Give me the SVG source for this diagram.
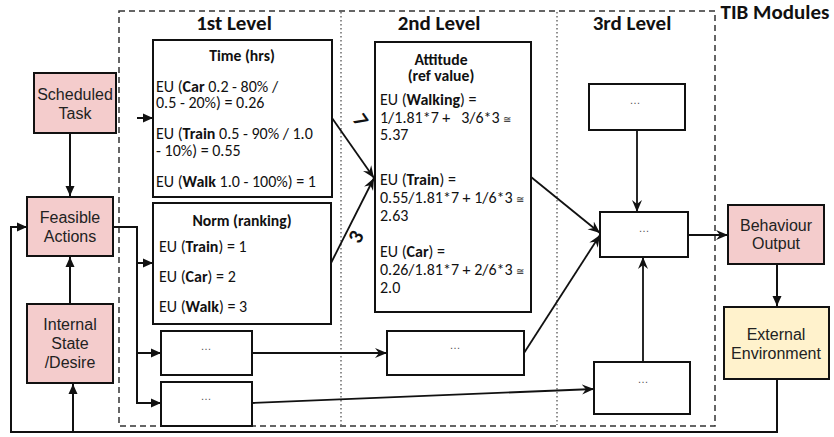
<svg xmlns="http://www.w3.org/2000/svg" width="834" height="437" viewBox="0 0 834 437">
  <style>
    .box { fill: #ffffff; stroke: #111; stroke-width: 2; }
    .pink { fill: #f4cccc; stroke: #111; stroke-width: 2; }
    .yellow { fill: #fff2cc; stroke: #111; stroke-width: 2; }
    .lbl { font-family: "Liberation Sans", Arial, sans-serif; font-size: 16px; text-anchor: middle; fill: #222; }
    .eu { font-family: Carlito, Lato, "Open Sans", sans-serif; font-size: 16px; fill: #111; }
    .ttl { font-family: Carlito, Lato, "Open Sans", sans-serif; font-size: 15.7px; font-weight: bold; text-anchor: middle; fill: #111; }
    .hd { font-family: Carlito, Lato, "Open Sans", sans-serif; font-size: 21px; font-weight: bold; text-anchor: middle; fill: #111; }
    .dots { font-family: "Liberation Sans", Arial, sans-serif; font-size: 11px; text-anchor: middle; fill: #555; }
    .wire { fill: none; stroke: #111; stroke-width: 2; }
    .thin { fill: none; stroke: #111; stroke-width: 1.8; }
    .frame { fill: none; stroke: #333; stroke-width: 1.5; stroke-dasharray: 6 4; }
    .sep { fill: none; stroke: #555; stroke-width: 1.3; stroke-dasharray: 1.5 2.5; }
    .wt { font-family: Carlito, Lato, "Open Sans", sans-serif; font-size: 21px; font-weight: bold; fill: #111; text-anchor: middle; }
    .b { font-weight: bold; }
    .sym { font-size: 10px; }
  </style>
  <defs>
    <marker id="tri" markerUnits="userSpaceOnUse" markerWidth="11" markerHeight="10" refX="10" refY="5" orient="auto">
      <path d="M0,0.5 L10,5 L0,9.5 z" fill="#111"/>
    </marker>
    <marker id="stealth" markerUnits="userSpaceOnUse" markerWidth="13" markerHeight="11" refX="12" refY="5.5" orient="auto">
      <path d="M0,0.5 L12,5.5 L0,10.5 L4,5.5 z" fill="#111"/>
    </marker>
  </defs>

  <!-- module frame and level separators -->
  <g id="tib-frame">
    <rect class="frame" x="119" y="11" width="596" height="415"/>
    <line class="sep" x1="341" y1="12" x2="341" y2="425"/>
    <line class="sep" x1="557" y1="12" x2="557" y2="425"/>
    <text class="hd" x="234" y="30">1st Level</text>
    <text class="hd" x="439" y="30">2nd Level</text>
    <text class="hd" x="632" y="30">3rd Level</text>
    <text class="hd" x="775" y="19">TIB Modules</text>
  </g>

  <!-- connectors -->
  <g id="connectors">
    <line class="wire" x1="70" y1="133" x2="70" y2="196" marker-end="url(#tri)"/>
    <line class="wire" x1="70" y1="304" x2="70" y2="257" marker-end="url(#tri)"/>
    <polyline class="wire" points="777,379 777,432 11,432 11,227 27,227" marker-end="url(#tri)"/>
    <line class="wire" x1="73" y1="432" x2="73" y2="384" marker-end="url(#tri)"/>
    <polyline class="wire" points="113,227 137,227 137,403"/>
    <polyline class="wire" points="137,118 153,118" marker-end="url(#tri)"/>
    <line class="wire" x1="137" y1="263" x2="153" y2="263" marker-end="url(#tri)"/>
    <line class="wire" x1="137" y1="353" x2="161" y2="353" marker-end="url(#tri)"/>
    <line class="wire" x1="136" y1="403" x2="161" y2="403" marker-end="url(#tri)"/>
    <line class="wire" x1="777" y1="264" x2="777" y2="306" marker-end="url(#tri)"/>

    <line class="thin" x1="332" y1="118" x2="374" y2="178" marker-end="url(#stealth)"/>
    <line class="thin" x1="331" y1="263" x2="374" y2="178" marker-end="url(#stealth)"/>
    <text class="wt" transform="translate(355,124) rotate(55)">7</text>
    <text class="wt" transform="translate(362,240) rotate(-62)">3</text>

    <line class="thin" x1="252" y1="353" x2="387" y2="353" marker-end="url(#stealth)"/>
    <line class="thin" x1="252" y1="403" x2="594" y2="389" marker-end="url(#stealth)"/>
    <line class="thin" x1="531" y1="177" x2="600" y2="233" marker-end="url(#stealth)"/>
    <line class="thin" x1="524" y1="353" x2="600" y2="235" marker-end="url(#stealth)"/>
    <line class="thin" x1="637" y1="130" x2="637" y2="212" marker-end="url(#stealth)"/>
    <line class="thin" x1="643" y1="362" x2="643" y2="257" marker-end="url(#stealth)"/>
    <line class="thin" x1="688" y1="235" x2="728" y2="235" marker-end="url(#stealth)"/>
  </g>

  <g id="scheduled-task">
    <rect class="pink" x="34" y="73" width="82" height="60"/>
    <text class="lbl" x="75" y="100">Scheduled<tspan x="75" dy="19">Task</tspan></text>
  </g>

  <g id="feasible-actions">
    <rect class="pink" x="27" y="197" width="86" height="59"/>
    <text class="lbl" x="70" y="223">Feasible<tspan x="70" dy="19">Actions</tspan></text>
  </g>

  <g id="internal-state">
    <rect class="pink" x="27" y="304" width="86" height="79"/>
    <text class="lbl" x="70" y="330">Internal<tspan x="70" dy="19">State</tspan><tspan x="70" dy="19">/Desire</tspan></text>
  </g>

  <g id="time">
    <rect class="box" x="153" y="40" width="179" height="157"/>
    <text class="ttl" x="242" y="61">Time (hrs)</text>
    <text class="eu" x="156" y="92">EU (<tspan class="b">Car</tspan> 0.2 - 80% /<tspan x="156" dy="16">0.5 - 20%) = 0.26</tspan></text>
    <text class="eu" x="156" y="139">EU (<tspan class="b">Train</tspan> 0.5 - 90% / 1.0<tspan x="156" dy="17">- 10%) = 0.55</tspan></text>
    <text class="eu" x="156" y="187">EU (<tspan class="b">Walk</tspan> 1.0 - 100%) = 1</text>
  </g>

  <g id="norm">
    <rect class="box" x="153" y="203" width="178" height="121"/>
    <text class="ttl" x="242" y="226">Norm (ranking)</text>
    <text class="eu" x="159" y="252">EU (<tspan class="b">Train</tspan>) = 1</text>
    <text class="eu" x="159" y="282">EU (<tspan class="b">Car</tspan>) = 2</text>
    <text class="eu" x="159" y="312">EU (<tspan class="b">Walk</tspan>) = 3</text>
  </g>

  <g id="level1-a">
    <rect class="box" x="161" y="331" width="91" height="44"/>
    <text class="dots" x="206" y="350">…</text>
  </g>

  <g id="level1-b">
    <rect class="box" x="161" y="382" width="91" height="44"/>
    <text class="dots" x="206" y="400">…</text>
  </g>

  <g id="attitude">
    <rect class="box" x="375" y="42" width="156" height="270"/>
    <text class="ttl" x="441" y="65">Attitude<tspan x="441" dy="16">(ref value)</tspan></text>
    <text class="eu" x="380" y="105" xml:space="preserve">EU (<tspan class="b">Walking</tspan>) =<tspan x="380" dy="18">1/1.81*7 +   3/6*3 <tspan class="sym">≅</tspan></tspan><tspan x="380" dy="17">5.37</tspan></text>
    <text class="eu" x="380" y="185">EU (<tspan class="b">Train</tspan>) =<tspan x="380" dy="18">0.55/1.81*7 + 1/6*3 <tspan class="sym">≅</tspan></tspan><tspan x="380" dy="18">2.63</tspan></text>
    <text class="eu" x="380" y="257">EU (<tspan class="b">Car</tspan>) =<tspan x="380" dy="18">0.26/1.81*7 + 2/6*3 <tspan class="sym">≅</tspan></tspan><tspan x="380" dy="18">2.0</tspan></text>
  </g>

  <g id="level2-a">
    <rect class="box" x="387" y="331" width="137" height="44"/>
    <text class="dots" x="455" y="349">…</text>
  </g>

  <g id="level3-top">
    <rect class="box" x="589" y="84" width="96" height="46"/>
    <text class="dots" x="635" y="104">…</text>
  </g>

  <g id="level3-center">
    <rect class="box" x="600" y="212" width="88" height="45"/>
    <text class="dots" x="644" y="232">…</text>
  </g>

  <g id="level3-bottom">
    <rect class="box" x="594" y="362" width="96" height="52"/>
    <text class="dots" x="643" y="383">…</text>
  </g>

  <g id="behaviour-output">
    <rect class="pink" x="728" y="205" width="96" height="59"/>
    <text class="lbl" x="776" y="231">Behaviour<tspan x="776" dy="18">Output</tspan></text>
  </g>

  <g id="external-environment">
    <rect class="yellow" x="724" y="307" width="105" height="72"/>
    <text class="lbl" x="776" y="340">External<tspan x="776" dy="19">Environment</tspan></text>
  </g>
</svg>
